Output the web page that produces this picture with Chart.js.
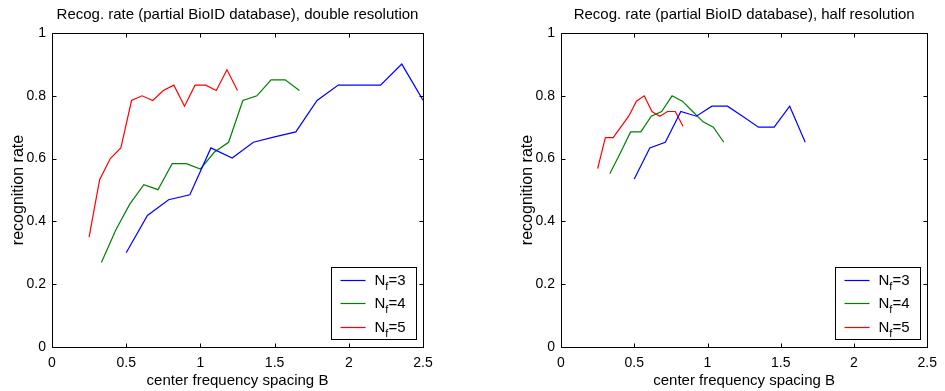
<!DOCTYPE html>
<html>
<head>
<meta charset="utf-8">
<script src="https://cdn.jsdelivr.net/npm/chart.js@4.4.1/dist/chart.umd.min.js"></script>
<style>
  html, body { margin: 0; padding: 0; background: #fff; }
  body { width: 945px; height: 391px; position: relative; overflow: hidden; }
  .panel { position: absolute; top: 0; height: 391px; }
  #left { left: 0; width: 470px; }
  #right { left: 509px; width: 436px; }
</style>
</head>
<body>
<div class="panel" id="left"><canvas id="chartLeft"></canvas></div>
<div class="panel" id="right"><canvas id="chartRight"></canvas></div>
<script>
// axis ticks
const xTicks = [0, 0.5, 1, 1.5, 2, 2.5];
const xTickLabels = ['0', '0.5', '1', '1.5', '2', '2.5'];
const yTicks = [0, 0.2, 0.4, 0.6, 0.8, 1];
const yTickLabels = ['0', '0.2', '0.4', '0.6', '0.8', '1'];
const seriesLabels = ['N_f=3', 'N_f=4', 'N_f=5'];
const seriesColors = ['#0000ff', '#008000', '#ff0000'];

// double resolution (left)
const dblX3 = [0.5, 0.643, 0.786, 0.929, 1.071, 1.214, 1.357, 1.5, 1.643, 1.786, 1.929, 2.071, 2.214, 2.357, 2.5];
const dblY3 = [0.300, 0.419, 0.469, 0.485, 0.634, 0.602, 0.652, 0.669, 0.685, 0.785, 0.834, 0.834, 0.834, 0.901, 0.786];
const dblX4 = [0.333, 0.429, 0.524, 0.619, 0.714, 0.810, 0.905, 1.0, 1.095, 1.190, 1.286, 1.381, 1.476, 1.571, 1.667];
const dblY4 = [0.269, 0.372, 0.455, 0.517, 0.501, 0.584, 0.584, 0.567, 0.621, 0.652, 0.785, 0.800, 0.851, 0.851, 0.817];
const dblX5 = [0.25, 0.321, 0.393, 0.464, 0.536, 0.607, 0.679, 0.75, 0.821, 0.893, 0.964, 1.036, 1.107, 1.179, 1.25];
const dblY5 = [0.350, 0.533, 0.600, 0.634, 0.785, 0.800, 0.785, 0.817, 0.834, 0.767, 0.834, 0.834, 0.817, 0.883, 0.817];

// half resolution (right)
const halfX3 = [0.5, 0.606, 0.712, 0.818, 0.924, 1.03, 1.136, 1.242, 1.348, 1.455, 1.561, 1.667];
const halfY3 = [0.535, 0.634, 0.652, 0.750, 0.735, 0.767, 0.767, 0.734, 0.700, 0.700, 0.767, 0.652];
const halfX4 = [0.333, 0.404, 0.475, 0.545, 0.616, 0.687, 0.758, 0.828, 0.899, 0.970, 1.040, 1.111];
const halfY4 = [0.552, 0.617, 0.685, 0.685, 0.735, 0.750, 0.800, 0.783, 0.750, 0.717, 0.700, 0.652];
const halfX5 = [0.25, 0.303, 0.356, 0.409, 0.462, 0.515, 0.568, 0.621, 0.674, 0.727, 0.780, 0.833];
const halfY5 = [0.568, 0.667, 0.667, 0.701, 0.735, 0.783, 0.800, 0.750, 0.735, 0.750, 0.750, 0.703];

const FAMILY = '"Liberation Sans", Arial, Helvetica, sans-serif';

function toPoints(xs, ys) {
    return xs.map((x, i) => ({ x: x, y: ys[i] }));
}

// box around the axes with small inward ticks on all four sides (matlab style)
const boxTicks = {
    id: 'boxTicks',
    afterDatasetsDraw(chart) {
        const ctx = chart.ctx;
        const a = chart.chartArea;
        const L = Math.round(a.left) + 0.5, R = Math.round(a.right) + 0.5;
        const T = Math.round(a.top) + 0.5, B = Math.round(a.bottom) + 0.5;
        const len = 4;
        ctx.save();
        ctx.strokeStyle = '#000';
        ctx.lineWidth = 1;
        ctx.beginPath();
        ctx.rect(L, T, R - L, B - T);
        chart.scales.x.ticks.forEach(t => {
            const px = Math.round(chart.scales.x.getPixelForValue(t.value)) + 0.5;
            ctx.moveTo(px, B); ctx.lineTo(px, B - len);
            ctx.moveTo(px, T); ctx.lineTo(px, T + len);
        });
        chart.scales.y.ticks.forEach(t => {
            const py = Math.round(chart.scales.y.getPixelForValue(t.value)) + 0.5;
            ctx.moveTo(L, py); ctx.lineTo(L + len, py);
            ctx.moveTo(R, py); ctx.lineTo(R - len, py);
        });
        ctx.stroke();
        ctx.restore();
    }
};

// legend in the lower right corner, label "N_f=3" drawn with a subscript f
const subLegend = {
    id: 'subLegend',
    afterDraw(chart) {
        const ctx = chart.ctx;
        const a = chart.chartArea;
        const w = 85, h = 72;
        const bx = Math.round(a.right - 7 - w) + 0.5;
        const by = Math.round(a.bottom - 8 - h) + 0.5;
        ctx.save();
        ctx.fillStyle = '#fff';
        ctx.fillRect(bx, by, w, h);
        ctx.strokeStyle = '#000';
        ctx.lineWidth = 1;
        ctx.strokeRect(bx, by, w, h);
        chart.data.datasets.forEach((ds, i) => {
            const ry = Math.round(by + 12.7 + i * 23.2);
            ctx.beginPath();
            ctx.strokeStyle = seriesColors[i];
            ctx.lineWidth = 1.2;
            ctx.moveTo(bx + 9, ry + 0.5);
            ctx.lineTo(bx + 34, ry + 0.5);
            ctx.stroke();
            const parts = ds.label.split('_');
            const sub = parts[1].charAt(0);
            const rest = parts[1].slice(1);
            ctx.fillStyle = '#000';
            ctx.textBaseline = 'alphabetic';
            ctx.textAlign = 'left';
            ctx.font = '15px ' + FAMILY;
            let tx = bx + 43;
            const base = ry + 5;
            ctx.fillText(parts[0], tx, base);
            tx += ctx.measureText(parts[0]).width;
            ctx.font = '11px ' + FAMILY;
            ctx.fillText(sub, tx, base + 5);
            tx += ctx.measureText(sub).width;
            ctx.font = '15px ' + FAMILY;
            ctx.fillText(rest, tx, base);
        });
        ctx.restore();
    }
};

function makeChart(canvasId, titleText, xsList, ysList, padRight) {
    const font = { family: FAMILY, size: 14 };
    const bigFont = { family: FAMILY, size: 15, weight: 'normal' };
    const datasets = seriesLabels.map((lab, i) => ({
        label: lab,
        data: toPoints(xsList[i], ysList[i]),
        borderColor: seriesColors[i],
        backgroundColor: seriesColors[i],
        borderWidth: 1.2,
        pointRadius: 0,
        tension: 0,
        fill: false
    }));
    return new Chart(document.getElementById(canvasId), {
        type: 'line',
        data: { datasets: datasets },
        options: {
            responsive: true,
            maintainAspectRatio: false,
            animation: false,
            layout: { padding: { top: 0, left: 0, right: padRight, bottom: 0 } },
            plugins: {
                legend: { display: false },
                tooltip: { enabled: false },
                title: {
                    display: true,
                    fullSize: false,
                    text: titleText,
                    color: '#000',
                    font: bigFont,
                    padding: { top: 6, bottom: 9 }
                }
            },
            scales: {
                x: {
                    type: 'linear',
                    min: 0,
                    max: 2.5,
                    grid: { display: false, drawTicks: false },
                    border: { display: false },
                    afterBuildTicks: s => { s.ticks = xTicks.map(v => ({ value: v })); },
                    afterFit: s => { s.height = 44; },
                    ticks: {
                        color: '#000', font: font, padding: 8, maxRotation: 0, autoSkip: false,
                        callback: (v, i) => xTickLabels[i]
                    },
                    title: {
                        display: true,
                        text: 'center frequency spacing B',
                        color: '#000',
                        font: bigFont,
                        padding: { top: 0, bottom: 1 }
                    }
                },
                y: {
                    min: 0,
                    max: 1,
                    grid: { display: false, drawTicks: false },
                    border: { display: false },
                    afterBuildTicks: s => { s.ticks = yTicks.map(v => ({ value: v })); },
                    afterFit: s => { s.width = 52; },
                    ticks: {
                        color: '#000', font: font, padding: 6, autoSkip: false,
                        callback: (v, i) => yTickLabels[i]
                    },
                    title: {
                        display: true,
                        text: 'recognition rate',
                        color: '#000',
                        font: { family: FAMILY, size: 16, weight: 'normal' },
                        padding: { top: 9, bottom: 0 }
                    }
                }
            }
        },
        plugins: [boxTicks, subLegend]
    });
}

makeChart('chartLeft', 'Recog. rate (partial BioID database), double resolution',
    [dblX3, dblX4, dblX5], [dblY3, dblY4, dblY5], 47);
makeChart('chartRight', 'Recog. rate (partial BioID database), half resolution',
    [halfX3, halfX4, halfX5], [halfY3, halfY4, halfY5], 13);
</script>
</body>
</html>
